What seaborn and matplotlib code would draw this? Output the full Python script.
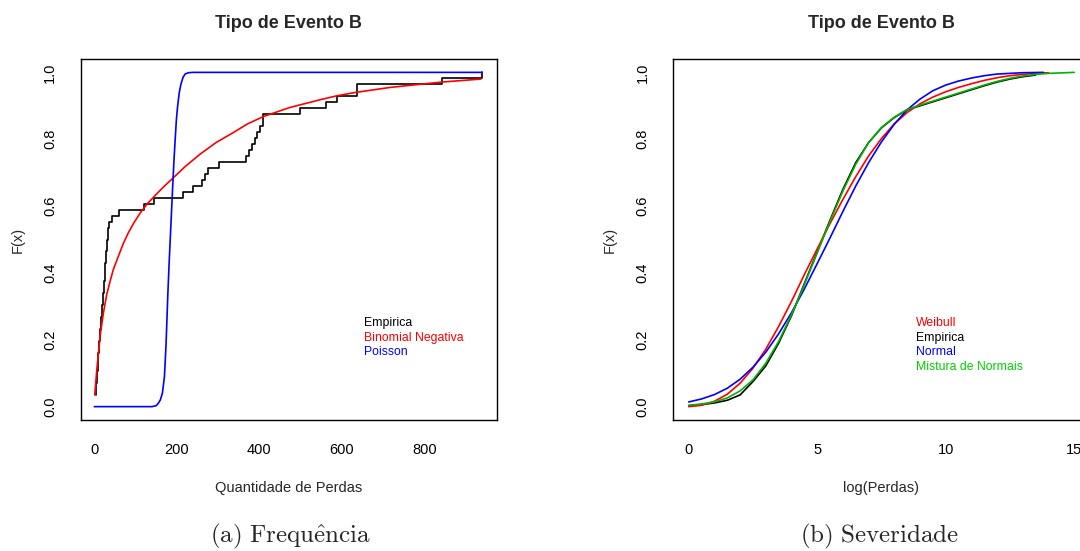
import numpy as np
import matplotlib
matplotlib.use("Agg")
import matplotlib.pyplot as plt
import seaborn as sns

# ---------------- Panel (a): Frequência ----------------
# observed number of losses (empirical sample, n = 56)
freq_counts = [4, 4, 5, 5, 6, 6, 8, 9, 10, 11, 12, 13, 13, 15, 16, 18, 19,
               21, 22, 23, 24, 25, 26, 27, 28, 29, 30, 31, 33, 34, 36,
               44, 61, 121, 145, 214, 240, 262, 268, 276, 303, 368, 376,
               381, 390, 394, 402, 410, 410, 499, 562, 588, 636, 636, 842, 939]

# fitted Negative Binomial CDF
nb_x = [1, 6, 10, 15, 22, 30, 38, 46, 58, 70, 82, 95, 111, 130, 150, 170,
        190, 220, 256, 295, 337, 370, 410, 474, 547, 588, 633, 717, 842, 937]
nb_F = [0.035, 0.11, 0.16, 0.22, 0.28, 0.335, 0.374, 0.41, 0.449, 0.487,
        0.519, 0.548, 0.579, 0.609, 0.635, 0.66, 0.683, 0.718, 0.755, 0.79,
        0.82, 0.845, 0.868, 0.895, 0.918, 0.93, 0.94, 0.955, 0.971, 0.98]

# fitted Poisson CDF
pois_x = [0, 140, 150, 155, 160, 165, 170, 174, 178, 181, 184, 187, 190,
          193, 196, 199, 202, 206, 210, 215, 220, 228, 240, 939]
pois_F = [0.0, 0.0, 0.003, 0.01, 0.02, 0.04, 0.09, 0.19, 0.33, 0.42, 0.50,
          0.58, 0.66, 0.735, 0.80, 0.86, 0.90, 0.94, 0.965, 0.985, 0.995,
          0.999, 1.0, 1.0]

# ---------------- Panel (b): Severidade ----------------
emp_x = [0, 0.5, 1, 1.5, 2, 2.5, 3, 3.5, 4, 4.5, 5, 5.5, 6, 6.5, 7, 7.5, 8,
         8.5, 9, 9.5, 10, 10.5, 11, 11.5, 12, 12.5, 13, 13.5]
emp_F = [0.003, 0.006, 0.011, 0.019, 0.035, 0.075, 0.122, 0.19, 0.272, 0.368,
         0.463, 0.558, 0.65, 0.73, 0.79, 0.834, 0.865, 0.888, 0.9, 0.912,
         0.924, 0.936, 0.948, 0.96, 0.971, 0.98, 0.987, 0.992]

weib_x = [0, 0.5, 1, 1.5, 2, 2.5, 3, 3.5, 4, 4.5, 5, 5.5, 6, 6.5, 7, 7.5, 8,
          8.5, 9, 9.5, 10, 10.5, 11, 11.5, 12, 12.5, 13, 13.5, 14]
weib_F = [0.0, 0.004, 0.016, 0.037, 0.07, 0.115, 0.172, 0.24, 0.315, 0.395,
          0.472, 0.548, 0.62, 0.688, 0.75, 0.802, 0.846, 0.88, 0.906, 0.926,
          0.942, 0.955, 0.966, 0.976, 0.984, 0.99, 0.994, 0.997, 0.999]

norm_x = [0, 0.5, 1, 1.5, 2, 2.5, 3, 3.5, 4, 4.5, 5, 5.5, 6, 6.5, 7, 7.5, 8,
          8.5, 9, 9.5, 10, 10.5, 11, 11.5, 12, 12.5, 13, 13.8]
norm_F = [0.014, 0.023, 0.036, 0.055, 0.082, 0.118, 0.163, 0.218, 0.281,
          0.352, 0.428, 0.505, 0.584, 0.66, 0.73, 0.792, 0.845, 0.888, 0.92,
          0.945, 0.962, 0.974, 0.983, 0.99, 0.995, 0.997, 0.999, 1.0]

mix_x = [0, 0.5, 1, 1.5, 2, 2.5, 3, 3.5, 4, 4.5, 5, 5.5, 6, 6.5, 7, 7.5, 8,
         8.5, 9, 9.5, 10, 10.5, 11, 11.5, 12, 12.5, 13, 13.5, 14, 15]
mix_F = [0.004, 0.008, 0.014, 0.026, 0.047, 0.08, 0.13, 0.195, 0.275, 0.365,
         0.46, 0.555, 0.645, 0.725, 0.79, 0.835, 0.866, 0.889, 0.902, 0.914,
         0.926, 0.938, 0.95, 0.962, 0.973, 0.982, 0.989, 0.994, 0.997, 1.0]

y_ticks = [0.0, 0.2, 0.4, 0.6, 0.8, 1.0]
freq_xticks = [0, 200, 400, 600, 800]
sev_xticks = [0, 5, 10, 15]

RED, BLUE, BLACK = "#FF0000", "#0000FF", "#000000"
GREEN_LINE, GREEN_TXT = "#00B400", "#00D000"

sns.set_style("white")
plt.rcParams["font.family"] = ["Liberation Sans", "DejaVu Sans"]
plt.rcParams["mathtext.fontset"] = "cm"

W, H = 1080, 551
fig = plt.figure(figsize=(W / 100, H / 100), dpi=100)
ax1 = fig.add_axes([80.7 / W, 1 - 420 / H, 416.3 / W, 361 / H])
ax2 = fig.add_axes([673.3 / W, 1 - 420 / H, 416.3 / W, 361 / H])

lw = 1.2
# empirical step function
vals, cnts = np.unique(np.array(freq_counts), return_counts=True)
ecdf_F = np.cumsum(cnts) / len(freq_counts)
sns.lineplot(x=vals, y=ecdf_F, ax=ax1, color=BLACK, lw=lw, drawstyle="steps-post",
             estimator=None, sort=False, label="Empirica")
sns.lineplot(x=nb_x, y=nb_F, ax=ax1, color=RED, lw=lw, estimator=None,
             sort=False, label="Binomial Negativa")
sns.lineplot(x=pois_x, y=pois_F, ax=ax1, color=BLUE, lw=lw, estimator=None,
             sort=False, label="Poisson")

sns.lineplot(x=emp_x, y=emp_F, ax=ax2, color=BLACK, lw=lw, estimator=None,
             sort=False, label="Empirica")
sns.lineplot(x=weib_x, y=weib_F, ax=ax2, color=RED, lw=lw, estimator=None,
             sort=False, label="Weibull")
sns.lineplot(x=norm_x, y=norm_F, ax=ax2, color=BLUE, lw=lw, estimator=None,
             sort=False, label="Normal")
sns.lineplot(x=mix_x, y=mix_F, ax=ax2, color=GREEN_LINE, lw=lw, estimator=None,
             sort=False, label="Mistura de Normais")


def style(ax, xticks, xlim, xlabel):
    ax.set_xlim(*xlim)
    ax.set_ylim(-0.04, 1.04)
    ax.set_xticks(xticks)
    ax.set_xticklabels([str(t) for t in xticks])
    ax.set_yticks(y_ticks)
    ax.set_yticklabels([f"{t:.1f}" for t in y_ticks])
    for s in ax.spines.values():
        s.set_visible(True)
        s.set_color("black")
        s.set_linewidth(1.0)
    ax.tick_params(axis="both", direction="out", length=6.5, width=0.9,
                   colors="#333333", labelcolor="black", labelsize=10.5)
    ax.tick_params(axis="x", pad=10)
    ax.tick_params(axis="y", pad=10.5, labelrotation=90)
    for lab in ax.get_yticklabels():
        lab.set_verticalalignment("center")
    ax.set_xlabel(xlabel, fontsize=10.5)
    ax.set_ylabel("F(x)", fontsize=10.5)
    ax.xaxis.set_label_coords(0.5, -0.168)
    ax.yaxis.set_label_coords(-0.135, 0.5)
    ax.set_title("Tipo de Evento B", fontsize=13, fontweight="bold", pad=22)
    ax.grid(False)


style(ax1, freq_xticks, (-33, 976), "Quantidade de Perdas")
style(ax2, sev_xticks, (-0.6, 15.6), "log(Perdas)")


def legend(ax, order, colors, x0):
    h, l = ax.get_legend_handles_labels()
    d = dict(zip(l, h))
    ax.legend([d[k] for k in order], order, loc="upper left",
              bbox_to_anchor=(x0, 0.284), borderaxespad=0, borderpad=0,
              frameon=False, handlelength=0, handletextpad=0,
              labelspacing=0.2, fontsize=8.8, labelcolor=colors)


legend(ax1, ["Empirica", "Binomial Negativa", "Poisson"],
       [BLACK, RED, BLUE], 0.68)
legend(ax2, ["Weibull", "Empirica", "Normal", "Mistura de Normais"],
       [RED, BLACK, BLUE, GREEN_TXT], 0.583)

fig.text(290 / W, 1 - 536 / H, r"$\mathrm{(a)\ Frequ\hat{e}ncia}$",
         ha="center", va="center", fontsize=18)
fig.text(880 / W, 1 - 536 / H, r"$\mathrm{(b)\ Severidade}$",
         ha="center", va="center", fontsize=18)

fig.savefig("out.png", dpi=100, facecolor="white")
